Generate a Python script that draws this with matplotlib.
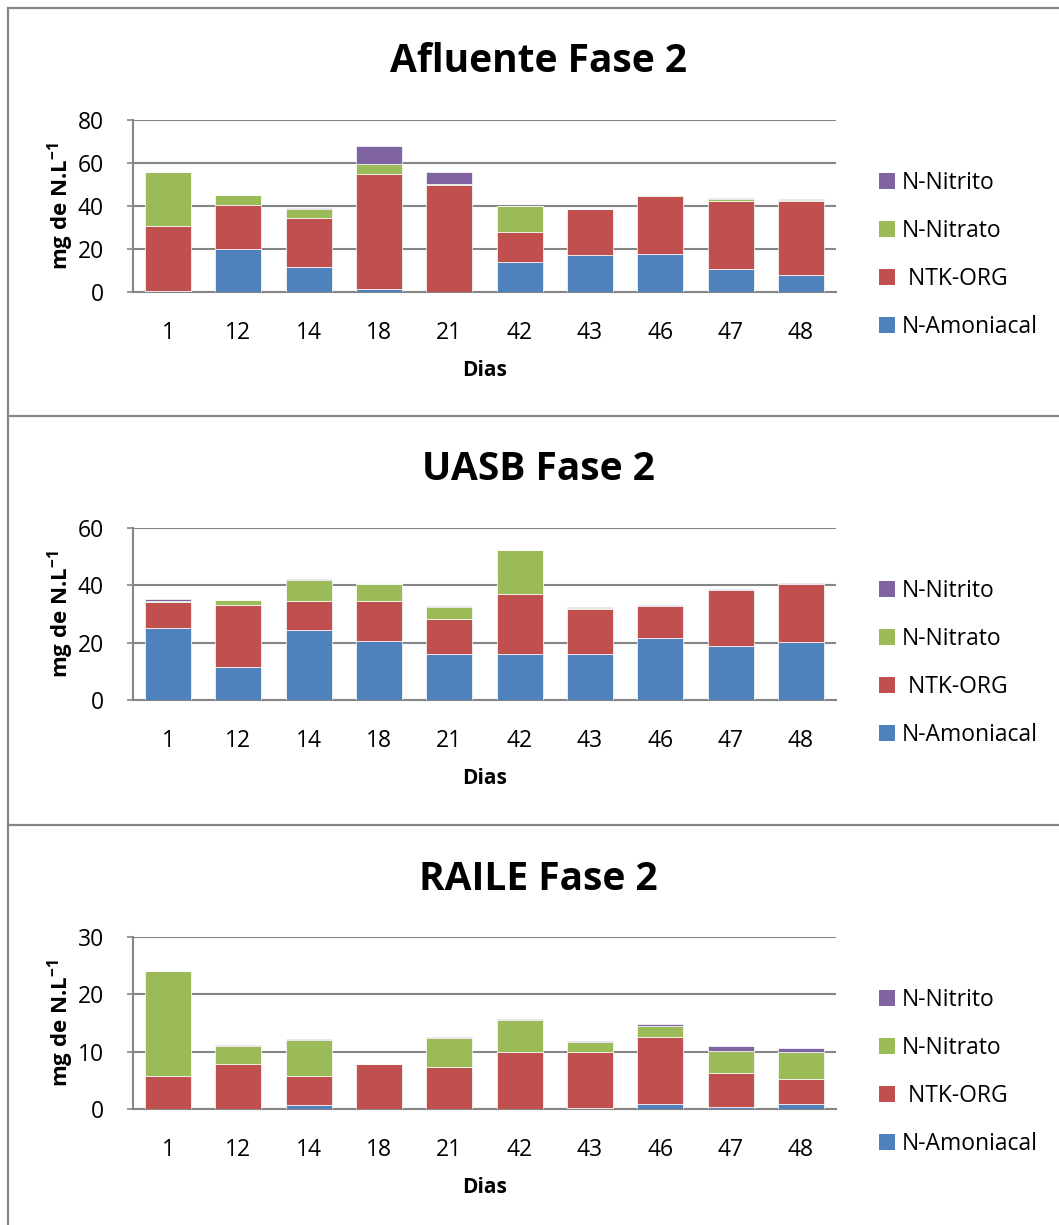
import matplotlib
matplotlib.use("Agg")
import matplotlib.pyplot as plt
from matplotlib.patches import Patch
from matplotlib.lines import Line2D

plt.rcParams['font.family'] = ['Open Sans', 'DejaVu Sans']
plt.rcParams['mathtext.fontset'] = 'custom'
plt.rcParams['mathtext.rm'] = 'Open Sans'
plt.rcParams['mathtext.bf'] = 'Open Sans:bold'

# Sampling days
dias = ['1', '12', '14', '18', '21', '42', '43', '46', '47', '48']

series_names = ['N-Amoniacal', ' NTK-ORG', 'N-Nitrato', 'N-Nitrito']
colors = ['#4F81BD', '#C0504D', '#9BBB59', '#8064A2']

# Afluente (mg N/L)
afl_amon = [0.6, 20.2, 11.5, 1.6, 0.2, 14.0, 17.4, 17.9, 10.6, 7.8]
afl_ntk = [30.2, 20.2, 22.7, 53.1, 49.7, 14.0, 21.0, 26.9, 31.9, 34.7]
afl_nitrato = [25.2, 4.5, 4.5, 4.7, 0.5, 12.0, 0.2, 0.1, 0.6, 0.1]
afl_nitrito = [0.0, 0.0, 0.5, 8.7, 5.6, 0.2, 0.0, 0.4, 0.6, 0.6]

# UASB (mg N/L)
uasb_amon = [25.2, 11.6, 24.5, 20.7, 16.1, 16.1, 15.9, 21.7, 19.0, 20.1]
uasb_ntk = [9.0, 21.7, 10.0, 13.8, 12.3, 20.9, 16.0, 11.0, 19.5, 20.3]
uasb_nitrato = [0.3, 1.5, 7.4, 5.8, 4.2, 15.4, 0.3, 0.2, 0.0, 0.0]
uasb_nitrito = [0.6, 0.0, 0.3, 0.0, 0.2, 0.0, 0.4, 0.2, 0.1, 0.3]

# RAILE (mg N/L)
raile_amon = [0.0, 0.0, 0.75, 0.0, 0.0, 0.0, 0.2, 0.8, 0.4, 0.9]
raile_ntk = [5.7, 7.8, 4.95, 7.8, 7.4, 9.9, 9.7, 11.8, 5.8, 4.3]
raile_nitrato = [18.3, 3.2, 6.4, 0.0, 5.0, 5.6, 1.8, 1.9, 4.0, 4.8]
raile_nitrito = [0.0, 0.2, 0.1, 0.05, 0.2, 0.2, 0.2, 0.4, 0.8, 0.7]

panels = [
    ("Afluente Fase 2", [afl_amon, afl_ntk, afl_nitrato, afl_nitrito], 80, 20),
    ("UASB Fase 2", [uasb_amon, uasb_ntk, uasb_nitrato, uasb_nitrito], 60, 20),
    ("RAILE Fase 2", [raile_amon, raile_ntk, raile_nitrato, raile_nitrito], 30, 10),
]

W, H = 1059, 1225
fig = plt.figure(figsize=(W / 100, H / 100), dpi=100)
GRAY = '#868686'


def fx(x):
    return x / W


def fy(y):
    return 1 - y / H


panel_top = [8, 416, 825]

# Panel frames
fig.add_artist(Line2D([fx(8), fx(8)], [fy(8), 0], color=GRAY, lw=1.6))
for t in panel_top:
    fig.add_artist(Line2D([fx(8), 1], [fy(t), fy(t)], color=GRAY, lw=1.6))

for (title, data, ymax, step), top in zip(panels, panel_top):
    ax_top = top + 112
    ax_bot = top + 284
    left, right = 133, 836
    ax = fig.add_axes([fx(left), fy(ax_bot), fx(right - left), (ax_bot - ax_top) / H])

    x = range(len(dias))
    bottom = [0.0] * len(dias)
    handles = []
    for vals, name, c in zip(data, series_names, colors):
        ax.bar(x, vals, width=0.655, bottom=bottom, color=c,
               edgecolor='white', linewidth=0.5, zorder=3, label=name)
        bottom = [b + v for b, v in zip(bottom, vals)]
        handles.append(Patch(facecolor=c, edgecolor='none', label=name))

    ax.set_xlim(-0.5, len(dias) - 0.5)
    ax.set_ylim(0, ymax)
    ax.set_yticks(range(0, ymax + 1, step))
    ax.set_xticks(list(x))
    ax.set_xticklabels(dias)
    ax.yaxis.grid(True, color=GRAY, lw=1.5, zorder=0)
    ax.set_axisbelow(True)
    for s in ['top', 'right']:
        ax.spines[s].set_visible(False)
    for s in ['left', 'bottom']:
        ax.spines[s].set_color(GRAY)
        ax.spines[s].set_linewidth(1.5)
    ax.tick_params(axis='y', length=4, color=GRAY, width=1.2, pad=17, labelsize=16.5)
    ax.tick_params(axis='x', length=0, pad=21, labelsize=16.5)
    ax.set_xlabel('Dias', fontsize=15, fontweight='bold', labelpad=11)
    ax.set_ylabel(r'mg de N.L$^{\mathbf{-1}}$', fontsize=16, fontweight='bold')
    ax.yaxis.set_label_coords((76 - left) / (right - left), 0.5)

    fig.text(fx(538), fy(top + 54), title, ha='center', va='center',
             fontsize=28, fontweight='bold')

    ax.legend(handles[::-1], series_names[::-1], loc='center left',
              bbox_to_anchor=(fx(879), fy(top + 247)),
              bbox_transform=fig.transFigure, frameon=False,
              fontsize=16.5, handlelength=0.7, handleheight=0.7,
              handletextpad=0.3, labelspacing=1.05, borderpad=0,
              borderaxespad=0)

fig.savefig('out.png', dpi=100)
